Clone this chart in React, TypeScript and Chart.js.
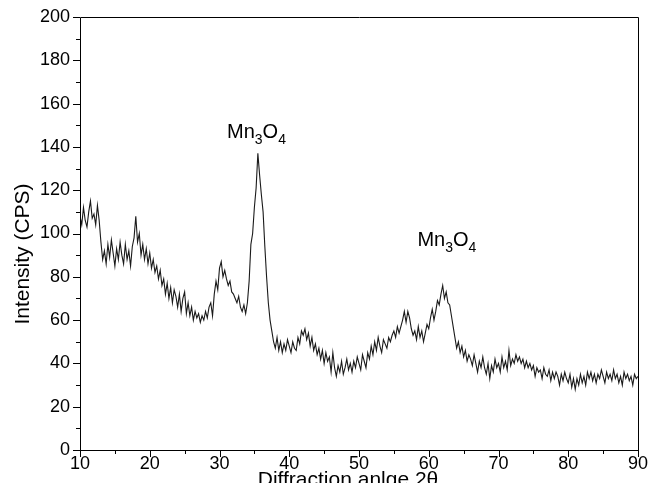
import React, { useEffect, useRef } from "react";
import { Chart, registerables } from "chart.js";

Chart.register(...registerables);

// Diffraction angle grid (2θ, degrees)
const ANGLE_START = 10;
const ANGLE_STEP = 0.25;

const intensity10to20 = [
  108, 104, 112, 106, 103, 110, 115, 107, 109, 104, 113, 106,
  96, 88, 92, 86, 95, 89, 97, 91, 85, 93, 88, 96,
  90, 86, 95, 88, 92, 85, 94, 98, 108, 96, 100, 90,
  95, 88, 93, 86,
];
const intensity20to30 = [
  91, 84, 88, 82, 85, 79, 83, 76, 79, 72, 77, 70,
  75, 68, 74, 71, 66, 72, 64, 70, 73, 63, 68, 62,
  66, 60, 64, 61, 63, 59, 62, 60, 64, 61, 66, 68,
  62, 72, 78, 74,
];
const intensity30to40 = [
  84, 87, 80, 83, 79, 76, 78, 73, 72, 70, 68, 71,
  66, 64, 67, 63, 68, 78, 95, 100, 112, 121, 137, 127,
  118, 110, 94, 80, 68, 60, 55, 50, 47, 52, 46, 50,
  45, 49, 46, 51,
];
const intensity40to50 = [
  48, 45, 50, 47, 46, 52, 49, 55, 53, 56, 51, 54,
  48, 52, 46, 49, 44, 47, 42, 46, 40, 45, 41, 43,
  36, 45, 38, 34, 39, 36, 41, 35, 38, 42, 37, 40,
  36, 41, 38, 43,
];
const intensity50to60 = [
  40, 37, 44, 41, 38, 45, 42, 48, 44, 50, 46, 52,
  48, 45, 51, 49, 47, 52, 50, 53, 55, 52, 57, 54,
  57, 60, 64, 59, 64, 61, 56, 53, 55, 51, 57, 52,
  55, 50, 54, 58,
];
const intensity60to70 = [
  56, 61, 65, 60, 64, 69, 67, 72, 76, 70, 73, 68,
  67, 62, 57, 52, 47, 50, 45, 48, 43, 46, 41, 44,
  42, 39, 44, 40, 36, 41, 38, 43, 38, 35, 40, 33,
  39, 36, 42, 38,
];
const intensity70to80 = [
  40, 36, 43, 38, 41, 37, 46, 39, 42, 40, 44, 41,
  43, 40, 42, 38, 41, 38, 40, 37, 39, 34, 38, 36,
  37, 33, 38, 35, 34, 37, 32, 36, 33, 36, 34, 30,
  35, 32, 36, 33,
];
const intensity80to90 = [
  31, 35, 29, 33, 28, 33, 30, 35, 31, 34, 30, 36,
  33, 36, 32, 35, 31, 35, 33, 37, 34, 31, 36, 33,
  35, 32, 37, 33, 35, 31, 34, 30, 36, 33, 35, 32,
  34, 30, 35, 33, 34,
];

const intensities = [
  ...intensity10to20,
  ...intensity20to30,
  ...intensity30to40,
  ...intensity40to50,
  ...intensity50to60,
  ...intensity60to70,
  ...intensity70to80,
  ...intensity80to90,
];

const xTickValues = [10, 20, 30, 40, 50, 60, 70, 80, 90];
const yTickValues = [0, 20, 40, 60, 80, 100, 120, 140, 160, 180, 200];

// Peak annotations: [2θ, CPS at label baseline]
const peakLabels = [
  { x: 35.3, y: 144 },
  { x: 62.6, y: 94 },
];

const FONT = "'Liberation Sans', Arial, Helvetica, sans-serif";

function drawMn3O4(ctx: CanvasRenderingContext2D, cx: number, baseline: number) {
  const big = `20px ${FONT}`;
  const small = `14px ${FONT}`;
  const parts: [string, string, number][] = [
    ["Mn", big, 0],
    ["3", small, 6],
    ["O", big, 0],
    ["4", small, 6],
  ];
  let total = 0;
  for (const [t, f] of parts) {
    ctx.font = f;
    total += ctx.measureText(t).width;
  }
  let x = cx - total / 2;
  ctx.fillStyle = "#000";
  ctx.textAlign = "left";
  ctx.textBaseline = "alphabetic";
  for (const [t, f, dy] of parts) {
    ctx.font = f;
    ctx.fillText(t, x, baseline + dy);
    x += ctx.measureText(t).width;
  }
}

const decorPlugin = {
  id: "decor",
  afterDraw(chart: any) {
    const { ctx, chartArea, scales } = chart;
    const { left, right, top, bottom } = chartArea;
    const xs = scales.x;
    const ys = scales.y;
    ctx.save();
    ctx.strokeStyle = "#000";
    ctx.lineWidth = 1;
    // frame
    ctx.beginPath();
    ctx.moveTo(Math.round(left) + 0.5, Math.round(bottom) + 0.5);
    ctx.lineTo(Math.round(left) + 0.5, Math.round(top) + 0.5);
    ctx.lineTo(Math.round(right) + 0.5, Math.round(top) + 0.5);
    ctx.lineTo(Math.round(right) + 0.5, Math.round(bottom) + 0.5);
    ctx.closePath();
    ctx.stroke();
    // major + minor ticks
    ctx.beginPath();
    for (let v = 0; v <= 200; v += 10) {
      const py = Math.round(ys.getPixelForValue(v)) + 0.5;
      const len = v % 20 === 0 ? 7 : 4;
      ctx.moveTo(left, py);
      ctx.lineTo(left - len, py);
    }
    for (let a = 10; a <= 90; a += 5) {
      const px = Math.round(xs.getPixelForValue(a)) + 0.5;
      const len = a % 10 === 0 ? 7 : 4;
      ctx.moveTo(px, bottom);
      ctx.lineTo(px, bottom + len);
    }
    ctx.stroke();
    // tick labels
    ctx.fillStyle = "#000";
    ctx.font = `18px ${FONT}`;
    ctx.textAlign = "right";
    ctx.textBaseline = "middle";
    for (const v of yTickValues) {
      ctx.fillText(String(v), left - 10, ys.getPixelForValue(v));
    }
    ctx.textAlign = "center";
    ctx.textBaseline = "top";
    for (const a of xTickValues) {
      ctx.fillText(String(a), xs.getPixelForValue(a), bottom + 5);
    }
    // axis titles
    ctx.font = `21px ${FONT}`;
    ctx.textAlign = "center";
    ctx.textBaseline = "alphabetic";
    ctx.fillText("Diffraction anlge 2θ", 348, bottom + 36);
    ctx.save();
    ctx.translate(23, 254);
    ctx.rotate(-Math.PI / 2);
    ctx.textBaseline = "middle";
    ctx.fillText("Intensity (CPS)", 0, 0);
    ctx.restore();
    // peak labels
    for (const p of peakLabels) {
      drawMn3O4(ctx, xs.getPixelForValue(p.x), ys.getPixelForValue(p.y));
    }
    ctx.restore();
  },
};

export default function App() {
  const canvasRef = useRef<HTMLCanvasElement | null>(null);

  useEffect(() => {
    document.body.style.margin = "0";
    const canvas = canvasRef.current;
    if (!canvas) return;
    const data = intensities.map((v, i) => ({ x: ANGLE_START + i * ANGLE_STEP, y: v }));
    const chart = new Chart(canvas, {
      type: "line",
      data: {
        datasets: [
          {
            data,
            borderColor: "#1a1a1a",
            borderWidth: 1.1,
            pointRadius: 0,
            tension: 0,
            fill: false,
          },
        ],
      },
      options: {
        responsive: false,
        animation: false,
        events: [],
        layout: { padding: { left: 0, right: 12, top: 17, bottom: 0 } },
        plugins: {
          legend: { display: false },
          tooltip: { enabled: false },
        },
        scales: {
          x: {
            type: "linear",
            min: 10,
            max: 90,
            grid: { display: false },
            border: { display: false },
            ticks: { display: false, stepSize: 10 },
            afterFit: (s: any) => {
              s.height = 33;
            },
          },
          y: {
            type: "linear",
            min: 0,
            max: 200,
            grid: { display: false },
            border: { display: false },
            ticks: { display: false, stepSize: 20 },
            afterFit: (s: any) => {
              s.width = 80;
            },
          },
        },
      },
      plugins: [decorPlugin],
    });
    return () => chart.destroy();
  }, []);

  return (
    <div style={{ position: "absolute", left: 0, top: 0, width: 650, height: 483, background: "#fff" }}>
      <canvas ref={canvasRef} width={650} height={483} style={{ width: 650, height: 483 }} />
    </div>
  );
}
